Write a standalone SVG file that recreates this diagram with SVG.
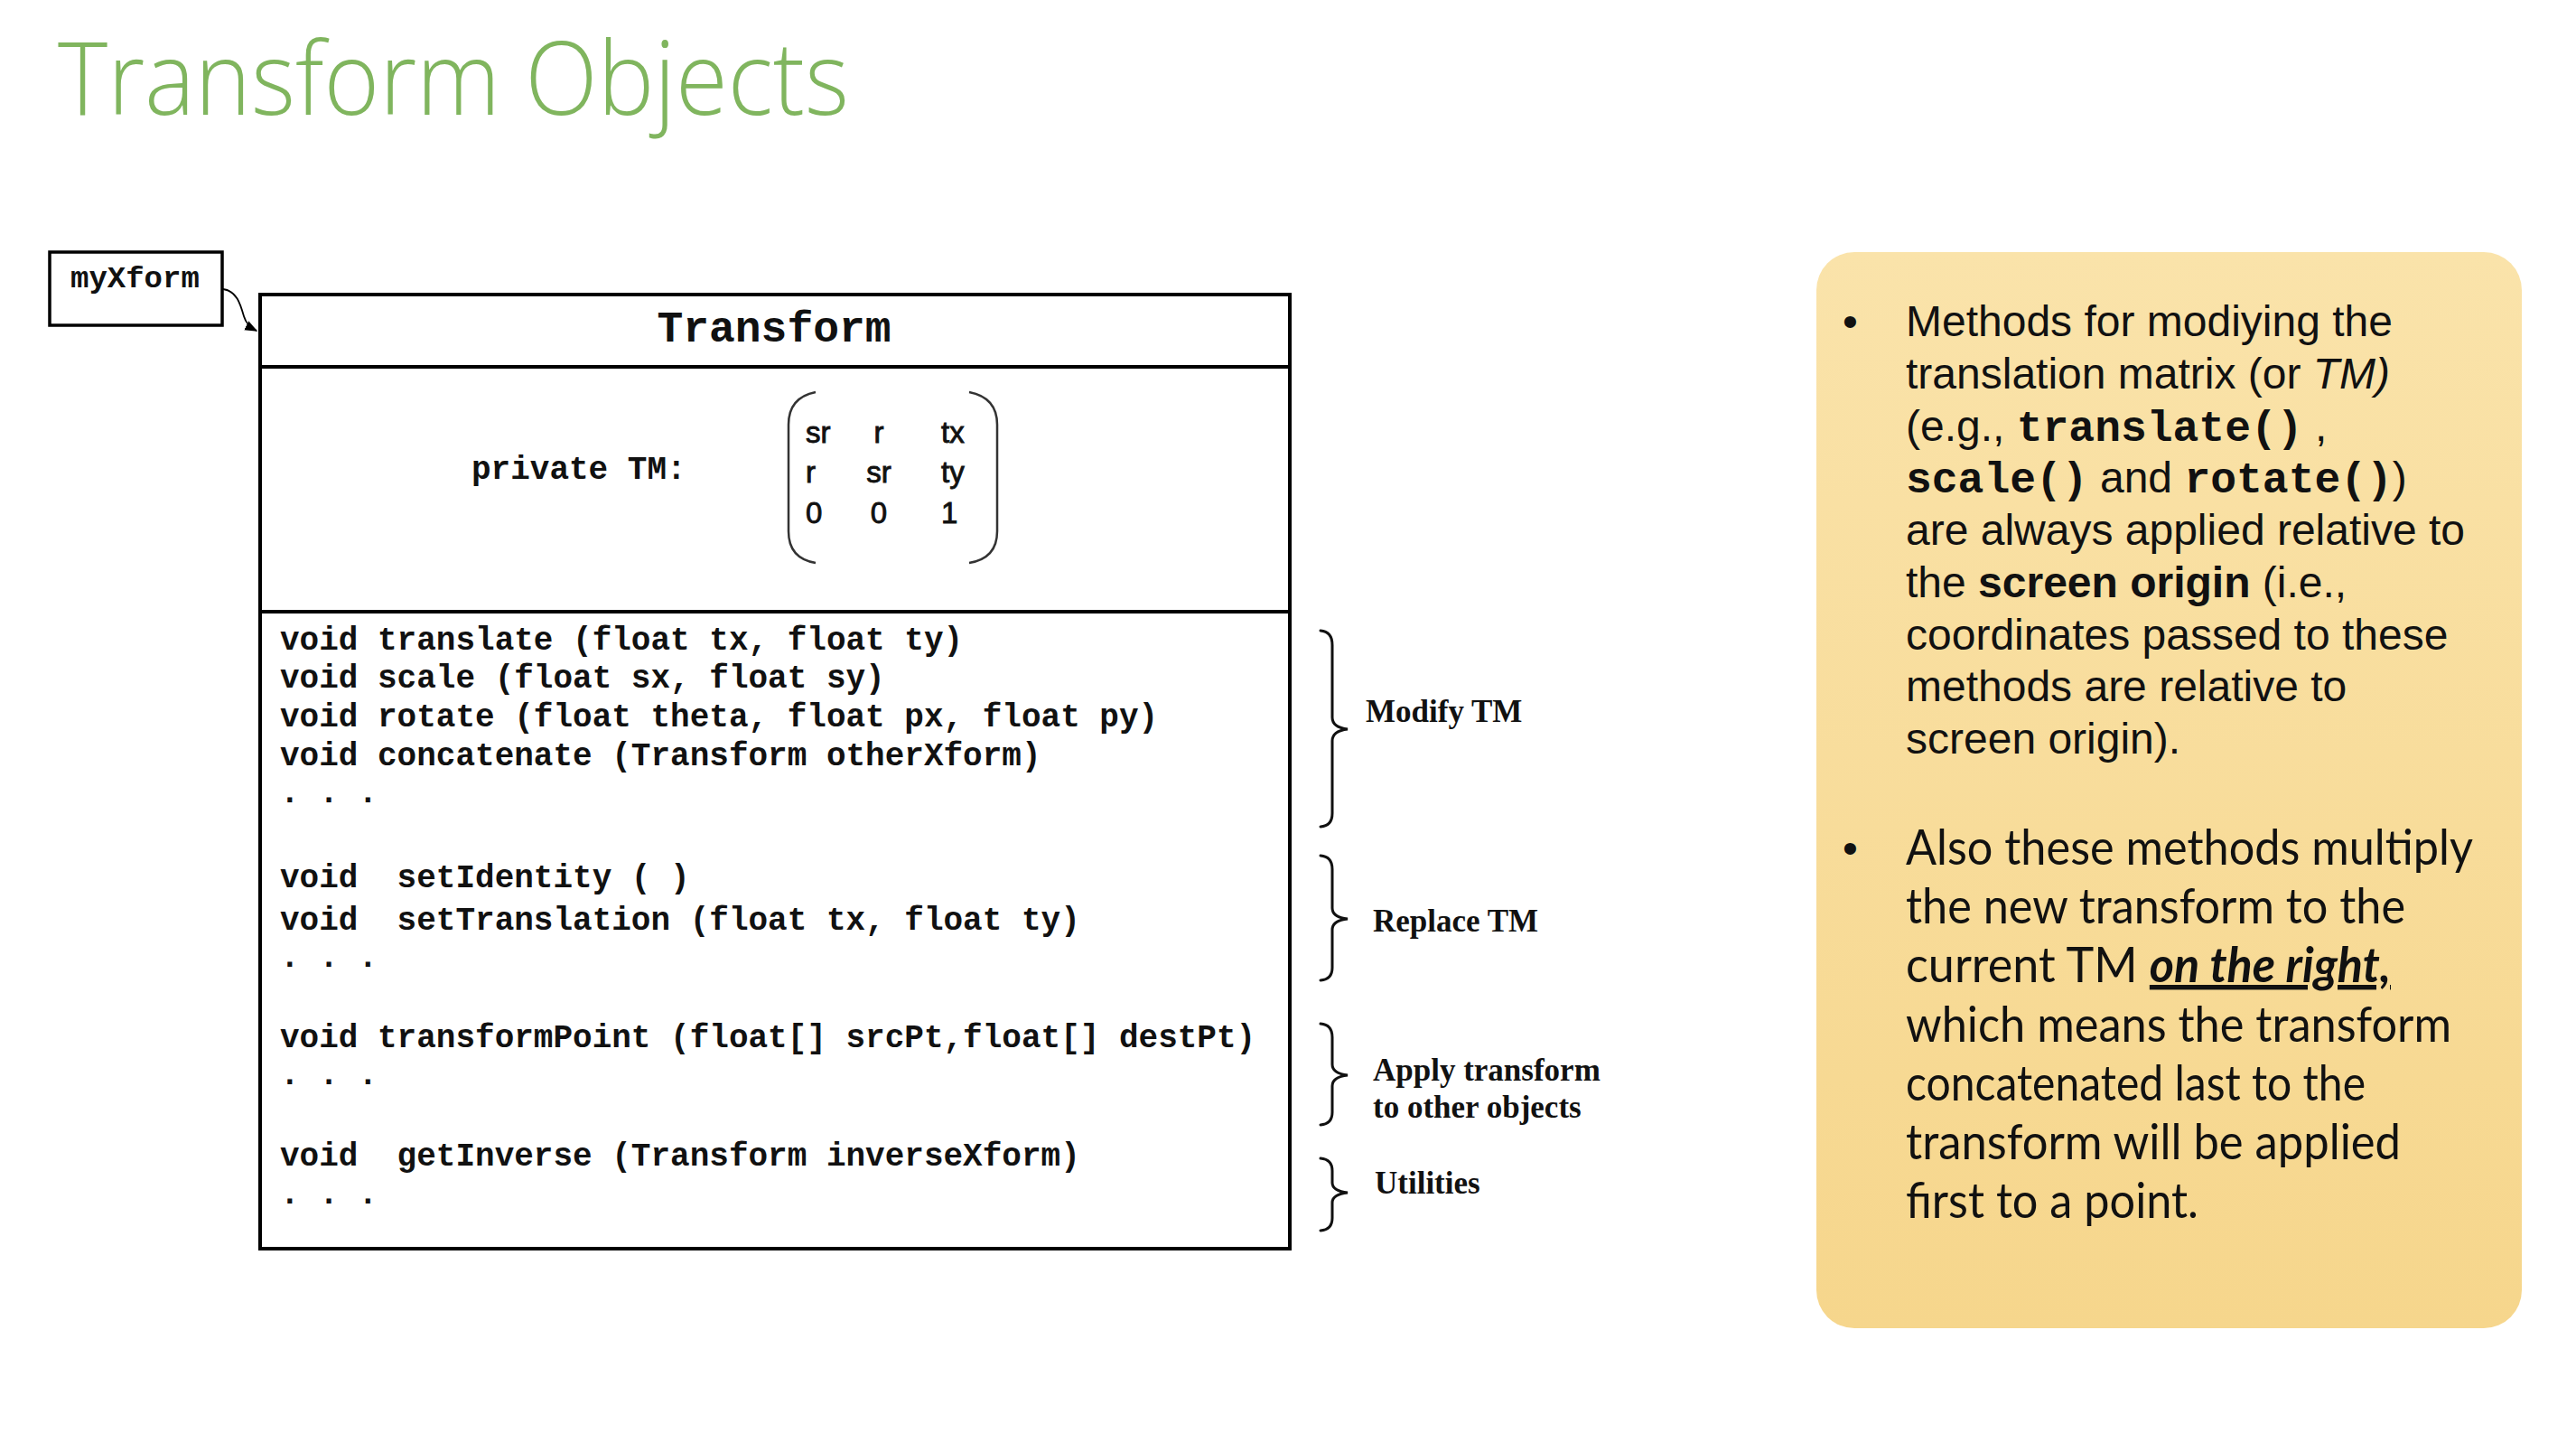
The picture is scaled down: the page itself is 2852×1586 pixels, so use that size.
<svg xmlns="http://www.w3.org/2000/svg" width="2852" height="1586" viewBox="0 0 2852 1586">
<style>
.mono{font-family:"Liberation Mono","Courier New",monospace;font-weight:bold;fill:#111;white-space:pre}
.code{font-size:36px}
.box{fill:#fff;stroke:#000;stroke-width:4}
.lbl{font-family:"Liberation Serif","Times New Roman",serif;font-weight:bold;font-size:35px;fill:#111}
.brace{fill:none;stroke:#111;stroke-width:3;stroke-linecap:round}
.mat{font-family:"Liberation Sans",Arial,sans-serif;font-size:33px;fill:#111;stroke:#111;stroke-width:0.9}
.b1{font-family:"Liberation Sans",Arial,sans-serif;font-size:48px;fill:#111;white-space:pre}
.b2{font-family:Lato,"Open Sans",sans-serif;font-size:54px;fill:#111}
.m1{font-family:"Liberation Mono","Courier New",monospace;font-weight:bold;font-size:48px}
</style>
<defs>
<linearGradient id="yg" x1="0" y1="0" x2="0" y2="1">
<stop offset="0" stop-color="#FAE3AA"/>
<stop offset="1" stop-color="#F6D68C"/>
</linearGradient>
<marker id="arrh" viewBox="0 0 10 10" refX="9" refY="5" markerWidth="14" markerHeight="14" orient="auto" markerUnits="userSpaceOnUse">
<path d="M0,1 L10,5 L0,9 z" fill="#000"/>
</marker>
</defs>
<rect width="2852" height="1586" fill="#fff"/>

<g id="title">
<text x="64" y="127" font-family="'Open Sans',Lato,sans-serif" font-weight="300" font-size="112" fill="#80B55E" textLength="876" lengthAdjust="spacingAndGlyphs">Transform Objects</text>
</g>

<g id="myXform">
<rect x="55" y="279" width="191" height="81" fill="#fff" stroke="#000" stroke-width="3.5"/>
<text class="mono" x="78" y="318" font-size="34">myXform</text>
</g>

<g id="transform">
<rect class="box" x="288" y="326" width="1140" height="1056"/>
<line x1="288" y1="406" x2="1428" y2="406" stroke="#000" stroke-width="4"/>
<line x1="288" y1="677" x2="1428" y2="677" stroke="#000" stroke-width="4"/>
<text class="mono" x="857" y="378" font-size="48" text-anchor="middle">Transform</text>
<text class="mono code" x="522" y="530">private TM:</text>
<path d="M903,434 Q873,440 873,470 L873,588 Q873,618 903,623" fill="none" stroke="#333" stroke-width="2.5"/>
<path d="M1073,434 Q1104,440 1104,470 L1104,588 Q1104,618 1073,623" fill="none" stroke="#333" stroke-width="2.5"/>
<text class="mat" x="892" y="490">sr</text>
<text class="mat" x="973" y="490" text-anchor="middle">r</text>
<text class="mat" x="1042" y="490">tx</text>
<text class="mat" x="892" y="534">r</text>
<text class="mat" x="973" y="534" text-anchor="middle">sr</text>
<text class="mat" x="1042" y="534">ty</text>
<text class="mat" x="892" y="579">0</text>
<text class="mat" x="973" y="579" text-anchor="middle">0</text>
<text class="mat" x="1042" y="579">1</text>
<g class="mono code">
<text x="310" y="719" xml:space="preserve">void translate (float tx, float ty)</text>
<text x="310" y="761" xml:space="preserve">void scale (float sx, float sy)</text>
<text x="310" y="804" xml:space="preserve">void rotate (float theta, float px, float py)</text>
<text x="310" y="847" xml:space="preserve">void concatenate (Transform otherXform)</text>
<text x="310" y="888" xml:space="preserve">. . .</text>
<text x="310" y="982" xml:space="preserve">void  setIdentity ( )</text>
<text x="310" y="1029" xml:space="preserve">void  setTranslation (float tx, float ty)</text>
<text x="310" y="1070" xml:space="preserve">. . .</text>
<text x="310" y="1159" xml:space="preserve">void transformPoint (float[] srcPt,float[] destPt)</text>
<text x="310" y="1200" xml:space="preserve">. . .</text>
<text x="310" y="1290" xml:space="preserve">void  getInverse (Transform inverseXform)</text>
<text x="310" y="1332" xml:space="preserve">. . .</text>
</g>
</g>

<g id="brace-modify">
<path class="brace" d="M1462,698 Q1475,699 1475,714 L1475,794 Q1475,805 1492,807 Q1475,809 1475,820 L1475,900 Q1475,914 1462,915"/>
<text class="lbl" x="1512" y="799">Modify TM</text>
</g>
<g id="brace-replace">
<path class="brace" d="M1462,947 Q1475,948 1475,962 L1475,1005 Q1475,1015 1492,1017 Q1475,1019 1475,1029 L1475,1071 Q1475,1084 1462,1085"/>
<text class="lbl" x="1520" y="1031">Replace TM</text>
</g>
<g id="brace-apply">
<path class="brace" d="M1462,1133 Q1475,1134 1475,1148 L1475,1178 Q1475,1188 1492,1190 Q1475,1192 1475,1202 L1475,1231 Q1475,1244 1462,1245"/>
<text class="lbl" x="1520" y="1196">Apply transform</text>
<text class="lbl" x="1520" y="1237">to other objects</text>
</g>
<g id="brace-utilities">
<path class="brace" d="M1462,1282 Q1475,1283 1475,1296 L1475,1309 Q1475,1318 1492,1320 Q1475,1322 1475,1331 L1475,1348 Q1475,1361 1462,1362"/>
<text class="lbl" x="1522" y="1321">Utilities</text>
</g>

<g id="connectors">
<path d="M247,320 C262,322 266,336 270,350 C272,357 276,362 284,366" fill="none" stroke="#000" stroke-width="1.8" marker-end="url(#arrh)"/>
</g>

<g id="notes">
<rect x="2011" y="279" width="781" height="1191" rx="42" ry="42" fill="url(#yg)"/>
<g class="b1">
<text x="2040" y="372">•</text>
<text x="2110" y="372">Methods for modiying the</text>
<text x="2110" y="430">translation matrix (or <tspan font-style="italic">TM)</tspan></text>
<text x="2110" y="488" xml:space="preserve">(e.g., <tspan class="m1">translate()</tspan> ,</text>
<text x="2110" y="545"><tspan class="m1">scale()</tspan> and <tspan class="m1">rotate()</tspan>)</text>
<text x="2110" y="603">are always applied relative to</text>
<text x="2110" y="661">the <tspan font-weight="bold">screen origin</tspan> (i.e.,</text>
<text x="2110" y="719">coordinates passed to these</text>
<text x="2110" y="776">methods are relative to</text>
<text x="2110" y="834">screen origin).</text>
<text x="2040" y="955">•</text>
</g>
<g class="b2">
<text x="2110" y="957" textLength="628" lengthAdjust="spacingAndGlyphs">Also these methods multiply</text>
<text x="2110" y="1022" textLength="553" lengthAdjust="spacingAndGlyphs">the new transform to the</text>
<text x="2110" y="1087" textLength="537" lengthAdjust="spacingAndGlyphs">current TM <tspan font-weight="bold" font-style="italic" text-decoration="underline">on the right,</tspan></text>
<text x="2110" y="1153" textLength="604" lengthAdjust="spacingAndGlyphs">which means the transform</text>
<text x="2110" y="1218" textLength="509" lengthAdjust="spacingAndGlyphs">concatenated last to the</text>
<text x="2110" y="1283" textLength="548" lengthAdjust="spacingAndGlyphs">transform will be applied</text>
<text x="2110" y="1348" textLength="324" lengthAdjust="spacingAndGlyphs">first to a point.</text>
</g>
</g>
</svg>
